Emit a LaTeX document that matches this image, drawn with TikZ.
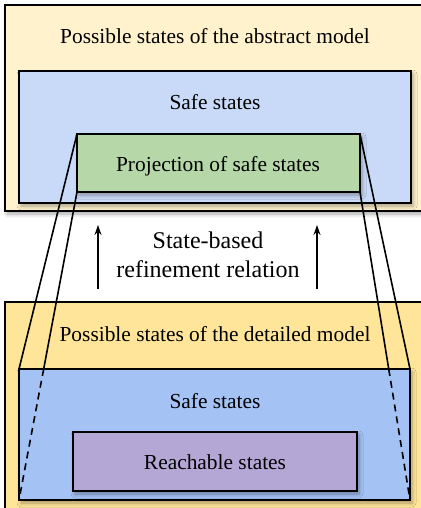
\documentclass[tikz,border=0pt]{standalone}
\usepackage{fontspec}
\setmainfont{Liberation Serif}
\usetikzlibrary{shadows.blur,arrows.meta,calc}
\definecolor{outerA}{HTML}{FFF2CC}
\definecolor{outerB}{HTML}{FFE599}
\definecolor{blueA}{HTML}{C9DAF8}
\definecolor{blueB}{HTML}{A4C2F4}
\definecolor{greenA}{HTML}{B6D7A8}
\definecolor{purpleA}{HTML}{B4A7D6}
\tikzset{
  x=1pt, y=-1pt,
  box/.style={draw=black, line width=1.8pt, outer sep=0pt, inner sep=0pt, anchor=north west,
    blur shadow={shadow xshift=2pt, shadow yshift=-3pt, shadow blur radius=4pt, shadow opacity=35}},
  lbl/.style={anchor=base, inner sep=0pt, font=\fontsize{21.4}{25}\selectfont},
  midlbl/.style={anchor=base, inner sep=0pt, font=\fontsize{24}{29}\selectfont},
  conn/.style={line width=1.6pt, black},
  upar/.style={line width=1.5pt, -{Stealth[length=10pt,width=7pt]}},
}
\begin{document}
\begin{tikzpicture}
\useasboundingbox (0,0) rectangle (420,508);
% abstract model
\node[box, fill=outerA, minimum width=430pt, minimum height=206pt] (absouter) at (5,5) {};
\node[box, fill=blueA, minimum width=392pt, minimum height=132pt] (absblue) at (19,71) {};
\node[box, fill=greenA, minimum width=283pt, minimum height=58pt] (proj) at (77,134) {};
\node[lbl] (abstxt) at (215,44) {Possible states of the abstract model};
\node[lbl] (abssafe) at (215,110) {Safe states};
\node[lbl] (projtxt) at (218,171) {Projection of safe states};
% detailed model
\node[box, fill=outerB, minimum width=430pt, minimum height=220pt] (detouter) at (5,302) {};
\node[box, fill=blueB, minimum width=391pt, minimum height=131pt] (detblue) at (19,369) {};
\node[box, fill=purpleA, minimum width=284pt, minimum height=59pt] (reach) at (73,432) {};
\node[lbl] (dettxt) at (215,341) {Possible states of the detailed model};
\node[lbl] (detsafe) at (215,408) {Safe states};
\node[lbl] (reachtxt) at (215,469) {Reachable states};
% refinement
\node[midlbl] (rel1) at (208,248) {State-based};
\node[midlbl] (rel2) at (208,277) {refinement relation};
\coordinate (la0) at (98,289);
\coordinate (la1) at (98,225);
\coordinate (ra0) at (317,289);
\coordinate (ra1) at (317,225);
\draw[upar] (la0) -- (la1);
\draw[upar] (ra0) -- (ra1);
% projection lines
\draw[conn] (proj.north west) -- (detblue.north west);
\draw[conn] (proj.north east) -- (detblue.north east);
\coordinate (xl) at (intersection of proj.south west--detblue.south west and detblue.north west--detblue.north east);
\coordinate (xr) at (intersection of proj.south east--detblue.south east and detblue.north west--detblue.north east);
\draw[conn] (proj.south west) -- (xl);
\draw[conn] (proj.south east) -- (xr);
\draw[conn, dash pattern=on 7pt off 5pt] (xl) -- (detblue.south west);
\draw[conn, dash pattern=on 7pt off 5pt] (xr) -- (detblue.south east);
\end{tikzpicture}
\end{document}
